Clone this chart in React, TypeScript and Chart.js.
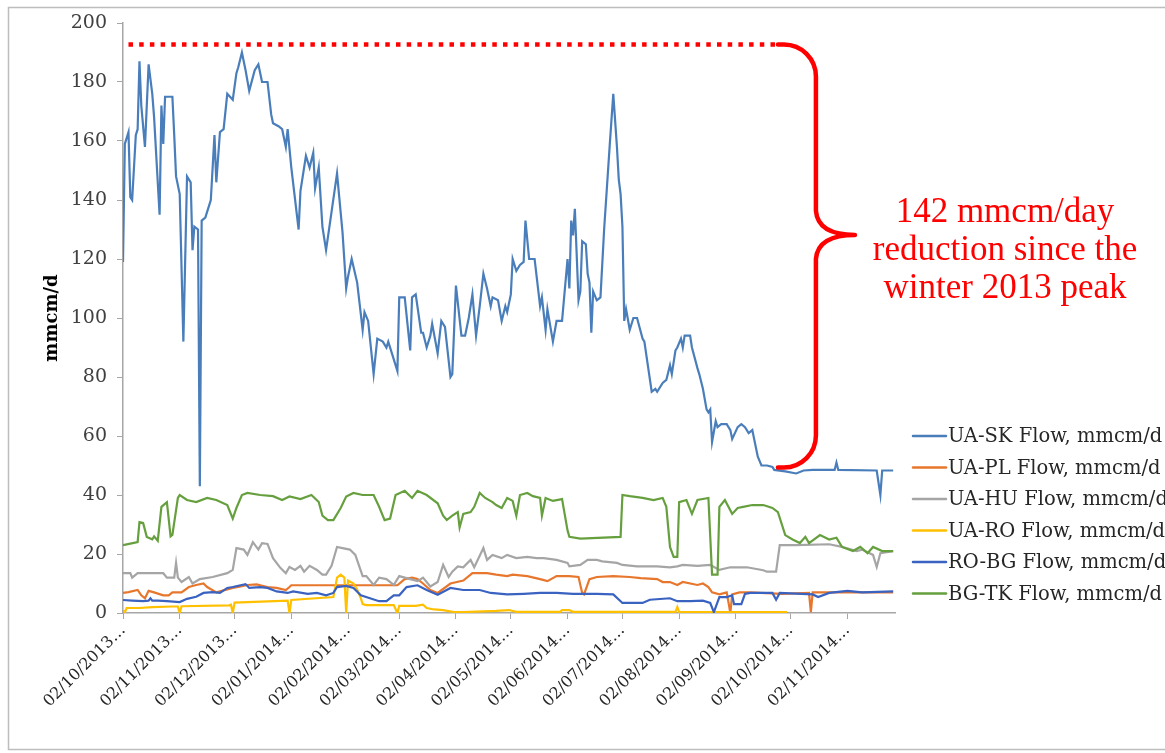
import React, { useEffect, useRef } from 'react';
import { Chart, registerables } from 'chart.js';

Chart.register(...registerables);

// Day offsets from 02/10/2013 for the month ticks, and their labels
const TICK_DAYS = [0, 31, 61, 92, 123, 151, 182, 212, 243, 273, 304, 335, 365, 396];
const TICK_LABELS = [
  '02/10/2013…', '02/11/2013…', '02/12/2013…', '02/01/2014…', '02/02/2014…',
  '02/03/2014…', '02/04/2014…', '02/05/2014…', '02/06/2014…', '02/07/2014…',
  '02/08/2014…', '02/09/2014…', '02/10/2014…', '02/11/2014…',
];
const X_MAX_DAY = 422;
const Y_TICKS_MAX = 200;

// Series: [day offset, mmcm/d]
const UA_SK: [number, number][] = [
  [0,119],[1,159],[3,163],[4,141],[5,140],[7,162],[8,164],[9,187],[10,172],[12,158],[14,186],[16,176],[17,168],[20,135],[21,172],[22,159],[23,175],[27,175],[28,162],[29,148],[31,142],[33,92],[35,148],[37,146],[38,123],[39,131],[41,130],[42,43],[43,133],[45,134],[48,140],[50,162],[51,146],[53,163],[55,164],[57,176],[60,174],[62,183],[63,185],[65,190],[67,184],[69,177],[72,184],[74,186],[76,180],[79,180],[81,169],[82,166],[85,165],[87,164],[89,158],[90,164],[92,151],[96,130],[97,143],[100,155],[102,151],[104,156],[105,144],[107,151],[109,131],[111,123],[114,136],[117,149],[120,129],[122,110],[123,114],[125,120],[128,112],[131,96],[132,102],[134,99],[137,81],[139,93],[142,92],[144,90],[145,92],[147,88],[150,82],[151,107],[154,107],[157,89],[158,107],[160,108],[163,95],[164,95],[166,90],[168,94],[169,98],[172,88],[174,99],[176,97],[179,80],[180,81],[182,111],[185,94],[187,94],[189,100],[191,108],[193,94],[195,104],[197,115],[199,110],[201,104],[202,107],[205,106],[207,99],[209,104],[210,102],[212,108],[213,120],[215,116],[217,118],[219,119],[220,133],[222,120],[225,120],[228,104],[229,107],[231,96],[232,103],[235,92],[237,99],[240,99],[243,120],[244,110],[245,133],[246,128],[247,137],[249,106],[250,109],[251,126],[253,125],[254,115],[255,112],[256,95],[257,109],[259,106],[261,107],[263,130],[266,158],[268,176],[270,158],[271,147],[272,142],[273,131],[274,99],[275,103],[277,96],[279,100],[281,100],[284,93],[285,92],[289,75],[291,76],[292,75],[295,78],[297,79],[299,84],[300,81],[302,89],[303,90],[305,93],[306,90],[307,94],[310,94],[311,90],[314,83],[315,81],[317,76],[319,69],[320,68],[321,69],[322,58],[324,65],[325,63],[327,64],[330,64],[332,62],[333,59],[336,63],[338,64],[340,63],[342,61],[344,62],[345,59],[347,53],[349,50],[352,50],[355,49.5],[356,48.5],[362,48],[368,47.3],[372,48.3],[377,48.5],[389,48.5],[390,51],[391,48.5],[412,48.3],[414,40],[415,48.3],[421,48.3],
];
const UA_PL: [number, number][] = [
  [0,6.8],[3,7.1],[8,7.8],[10,6],[12,5],[14,7.5],[17,7],[22,6],[25,6],[27,7],[32,7],[36,8.8],[40,9.5],[44,10],[46,8.8],[51,7],[57,8],[60,8.5],[63,8.8],[68,9.5],[73,9.7],[79,8.8],[84,8.5],[89,7.8],[91,8.8],[92,9.4],[150,9.4],[154,11.5],[158,12],[161,11.5],[164,10],[168,7.8],[172,6.8],[179,10],[186,11],[191,13.5],[199,13.5],[204,13],[210,12.5],[213,13],[221,12.5],[228,11.5],[232,10.8],[237,12.5],[244,12.5],[249,12.2],[251,6.8],[252,6.3],[255,11.5],[259,12.2],[268,12.5],[277,12.2],[283,11.8],[292,11.5],[295,10.5],[299,10.5],[303,9.5],[306,10.5],[314,9.5],[317,10],[320,8.8],[322,7],[326,6.3],[330,7],[332,0],[333,6.3],[337,7],[343,7],[360,6.5],[375,6.8],[376,0.3],[377,7],[397,7],[421,7],
];
const UA_HU: [number, number][] = [
  [0,13.5],[4,13.5],[5,12],[8,13.5],[22,13.5],[24,12],[28,12],[29,17],[30,12],[32,10.5],[36,12.2],[38,10],[42,11.5],[49,12.2],[57,13.5],[60,14.6],[62,22],[66,21.5],[68,19.7],[71,24],[74,21.5],[76,23.7],[79,23.4],[82,18.6],[86,15.3],[89,13.5],[91,15.6],[94,14.6],[97,16],[99,14],[102,16],[106,14.6],[109,13],[111,13],[114,16],[117,22.4],[120,22],[124,21.5],[127,19.7],[131,12.5],[133,12.5],[137,9.5],[140,12],[144,11.5],[148,9.5],[151,12.5],[157,11.5],[161,10.8],[164,12],[168,9],[172,10.5],[175,16.3],[178,12.2],[180,14],[183,15.8],[186,15.5],[190,18],[192,15.5],[197,22],[199,18],[202,19.7],[207,18.6],[210,19.7],[215,18.6],[221,19],[226,18.6],[230,18.6],[237,18],[243,17],[244,15.8],[250,16.3],[254,18],[259,18],[262,17.5],[270,17],[273,16.3],[281,15.8],[292,15.8],[299,15.5],[303,15.8],[306,16.3],[314,16],[321,16.3],[326,14.6],[332,15.5],[341,15.5],[350,14.5],[352,14],[357,14],[359,23],[361,23],[368,23],[386,23.3],[393,22.4],[401,21],[404,21.5],[410,19.7],[412,15.6],[414,20.3],[421,21],
];
const UA_RO: [number, number][] = [
  [0,1],[1,0.2],[2,1.7],[9,1.7],[16,2],[27,2.2],[30,2.2],[31,0],[32,2.3],[58,2.6],[59,2.8],[60,0],[61,3.5],[90,4.2],[91,0],[92,4.4],[115,5.4],[117,12],[119,13],[121,12],[122,0],[123,11],[126,10],[128,8],[130,5],[131,3],[133,2.7],[148,2.7],[150,0],[151,2.4],[160,2.4],[164,2.8],[166,1.7],[170,1.2],[175,1],[181,0.3],[186,0.3],[204,0.7],[211,1],[215,0.4],[239,0.4],[240,1],[244,1],[246,0.4],[302,0.4],[303,2],[304,0.4],[363,0.3],
];
const RO_BG: [number, number][] = [
  [0,4.4],[5,4.2],[11,4],[14,4.2],[15,5],[16,4.2],[19,4.2],[24,4],[31,3.7],[35,4.8],[40,5.5],[44,6.8],[49,7.1],[53,6.8],[57,8.5],[60,8.8],[67,9.8],[69,8.5],[75,8.8],[79,8.5],[84,7.3],[90,6.8],[93,7.3],[101,6.5],[106,6.8],[111,6],[115,6.8],[117,8.8],[122,9.2],[126,8.5],[130,6],[135,5],[140,4],[144,4],[148,6],[151,6],[155,8.8],[161,9.4],[166,7.8],[172,6.2],[179,8.5],[186,7.8],[195,7.8],[201,6.8],[210,6.3],[219,6.5],[228,6.8],[237,6.8],[246,6.5],[259,6.5],[268,6.3],[273,3.4],[284,3.4],[288,4.5],[299,5],[303,4],[310,4],[317,4.2],[321,3.4],[323,0.3],[326,5.4],[330,5.4],[333,6],[334,3],[338,3],[340,6.5],[343,6.8],[355,6.8],[357,4.5],[359,6.8],[377,6.3],[380,5.4],[386,6.8],[396,7.5],[404,7],[421,7.3],
];
const BG_TK: [number, number][] = [
  [0,23],[4,23.5],[8,24],[9,30.8],[11,30.5],[13,25.8],[16,25],[17,26],[19,24.5],[21,36],[24,37.6],[26,26],[27,26.5],[30,39],[31,40],[35,38.3],[40,37.6],[46,39],[51,38.3],[57,36.6],[60,32],[62,35.6],[65,40],[68,40.7],[75,40],[82,39.6],[87,38.3],[91,39.5],[97,38.6],[103,40],[107,37.6],[109,33],[112,31.5],[115,31.5],[119,35.6],[122,39.5],[126,40.7],[131,40],[137,40],[140,36],[143,31.5],[146,32],[149,40],[154,41.4],[158,39],[161,41.4],[166,40],[172,37.2],[175,33],[177,31.5],[180,33],[183,34.2],[184,29],[186,33.6],[190,34.2],[192,36],[195,40.7],[198,39],[202,37.6],[204,36.6],[207,35.6],[210,39],[213,38],[215,33],[217,40],[221,40.7],[224,39.6],[228,39],[229,33],[231,39],[235,38],[240,38.6],[243,28],[244,25.8],[250,25.2],[272,25.8],[273,40],[277,39.6],[284,39],[290,38.3],[295,39],[297,36],[299,22.4],[301,19],[303,19],[304,37.6],[308,38.3],[311,33.6],[314,38.3],[320,39],[322,13],[325,13],[326,36],[329,38.3],[333,33.6],[336,35.6],[339,36],[344,36.6],[350,36.6],[355,35.6],[358,34.2],[362,26.4],[366,24.9],[370,23.7],[373,25.8],[375,23.7],[381,26.4],[386,24.9],[390,25.5],[393,22.4],[399,21],[403,22.4],[407,20.3],[410,22.4],[415,21],[421,21],
];

const SERIES_NAMES = [
  'UA-SK Flow, mmcm/d', 'UA-PL Flow, mmcm/d', 'UA-HU Flow, mmcm/d',
  'UA-RO Flow, mmcm/d', 'RO-BG Flow, mmcm/d', 'BG-TK Flow, mmcm/d',
];
const SERIES_DATA = [UA_SK, UA_PL, UA_HU, UA_RO, RO_BG, BG_TK];
const SERIES_COLORS = ['#4A7EBB', '#E8772E', '#A5A5A5', '#FFC000', '#3A62C0', '#66A03E'];

// Annotation: peak level, level now, and where the dotted line runs
const PEAK_LEVEL = 192.7;
const CURRENT_LEVEL = 49.3;
const PEAK_LINE_FROM_DAY = 3;
const PEAK_LINE_TO_DAY = 358;
const NOTE_LINES = ['142 mmcm/day', 'reduction since the', 'winter 2013 peak'];

const SERIF = '"DejaVu Serif", serif';

const overlayPlugin = {
  id: 'overlay',
  beforeDraw(chart: any) {
    const ctx = chart.ctx;
    ctx.save();
    ctx.fillStyle = '#ffffff';
    ctx.fillRect(0, 0, chart.width, chart.height);
    ctx.strokeStyle = '#BDBDBD';
    ctx.lineWidth = 1.5;
    ctx.strokeRect(8.5, 7.5, 1400, 742);
    ctx.restore();
  },
  afterDraw(chart: any) {
    const { ctx } = chart;
    const xs = chart.scales.x;
    const ys = chart.scales.y;
    const yTop = ys.getPixelForValue(PEAK_LEVEL);
    const yBot = ys.getPixelForValue(CURRENT_LEVEL);
    const x0 = xs.getPixelForValue(PEAK_LINE_FROM_DAY);
    const x1 = xs.getPixelForValue(PEAK_LINE_TO_DAY);
    ctx.save();
    // dotted line
    ctx.strokeStyle = '#FF0000';
    ctx.lineWidth = 4.5;
    ctx.setLineDash([4.5, 6.2]);
    ctx.beginPath();
    ctx.moveTo(x0, yTop);
    ctx.lineTo(x1, yTop);
    ctx.stroke();
    ctx.setLineDash([]);
    // brace
    const bx = x1 + 38;
    const tipX = x1 + 77;
    const tipY = yTop + 0.45 * (yBot - yTop);
    const r = 32;
    ctx.lineWidth = 4.5;
    ctx.lineJoin = 'round';
    ctx.lineCap = 'round';
    ctx.beginPath();
    ctx.moveTo(x1, yTop);
    ctx.arcTo(bx, yTop, bx, yTop + r, r);
    ctx.lineTo(bx, tipY - 24);
    ctx.quadraticCurveTo(bx + 2, tipY, tipX, tipY);
    ctx.quadraticCurveTo(bx + 2, tipY, bx, tipY + 24);
    ctx.lineTo(bx, yBot - r);
    ctx.arcTo(bx, yBot, x1, yBot, r);
    ctx.lineTo(x1, yBot);
    ctx.stroke();
    // note text
    ctx.fillStyle = '#FF0000';
    ctx.font = '35px "Liberation Serif", serif';
    ctx.textAlign = 'center';
    ctx.textBaseline = 'alphabetic';
    NOTE_LINES.forEach((t, i) => ctx.fillText(t, 1005, 222 + i * 38));
    // legend
    ctx.font = '19.5px ' + SERIF;
    ctx.textAlign = 'left';
    ctx.textBaseline = 'middle';
    SERIES_NAMES.forEach((name, i) => {
      const y = 436 + i * 31.5;
      ctx.strokeStyle = SERIES_COLORS[i];
      ctx.lineWidth = 2.5;
      ctx.beginPath();
      ctx.moveTo(913, y);
      ctx.lineTo(946, y);
      ctx.stroke();
      ctx.fillStyle = '#262626';
      ctx.fillText(name, 948, y + 1);
    });
    ctx.restore();
  },
};

export default function App() {
  const ref = useRef<HTMLCanvasElement | null>(null);
  useEffect(() => {
    if (!ref.current) return;
    const chart = new Chart(ref.current, {
      type: 'line',
      data: {
        datasets: SERIES_DATA.map((s, i) => ({
          label: SERIES_NAMES[i],
          data: s.map(([d, v]) => ({ x: d, y: v })),
          borderColor: SERIES_COLORS[i],
          backgroundColor: SERIES_COLORS[i],
          borderWidth: 2.2,
          pointRadius: 0,
          tension: 0,
          fill: false,
          order: SERIES_DATA.length - i,
        })),
      },
      options: {
        responsive: false,
        animation: false,
        devicePixelRatio: 1,
        layout: { padding: { left: 0, top: 23, right: 270, bottom: 0 } },
        plugins: { legend: { display: false }, tooltip: { enabled: false } },
        scales: {
          x: {
            type: 'linear',
            min: 0,
            max: X_MAX_DAY,
            afterBuildTicks: (scale: any) => {
              scale.ticks = TICK_DAYS.map((v) => ({ value: v }));
            },
            afterFit: (scale: any) => {
              scale.height = 140;
            },
            grid: { drawOnChartArea: false, tickLength: 6, color: '#A6A6A6' },
            border: { color: '#A6A6A6', width: 1.5 },
            ticks: {
              autoSkip: false,
              minRotation: 45,
              maxRotation: 45,
              padding: 2,
              color: '#262626',
              font: { family: SERIF, size: 16 },
              callback: (value: any) => {
                const i = TICK_DAYS.indexOf(Number(value));
                return i >= 0 ? TICK_LABELS[i] : '';
              },
            },
          },
          y: {
            min: 0,
            max: Y_TICKS_MAX,
            afterFit: (scale: any) => {
              scale.width = 123;
            },
            grid: { drawOnChartArea: false, tickLength: 6, color: '#A6A6A6' },
            border: { color: '#A6A6A6', width: 1.5 },
            ticks: {
              stepSize: 20,
              padding: 10,
              color: '#404040',
              font: { family: SERIF, size: 19 },
            },
            title: {
              display: true,
              text: 'mmcm/d',
              color: '#000000',
              font: { family: SERIF, size: 18, weight: 'bold' },
              padding: { top: 42, bottom: 0 },
            },
          },
        },
      },
      plugins: [overlayPlugin],
    });
    return () => chart.destroy();
  }, []);
  return (
    <div style={{ position: 'fixed', left: 0, top: 0, width: 1165, height: 753, overflow: 'hidden' }}>
      <canvas ref={ref} width={1165} height={753} style={{ display: 'block' }} />
    </div>
  );
}
